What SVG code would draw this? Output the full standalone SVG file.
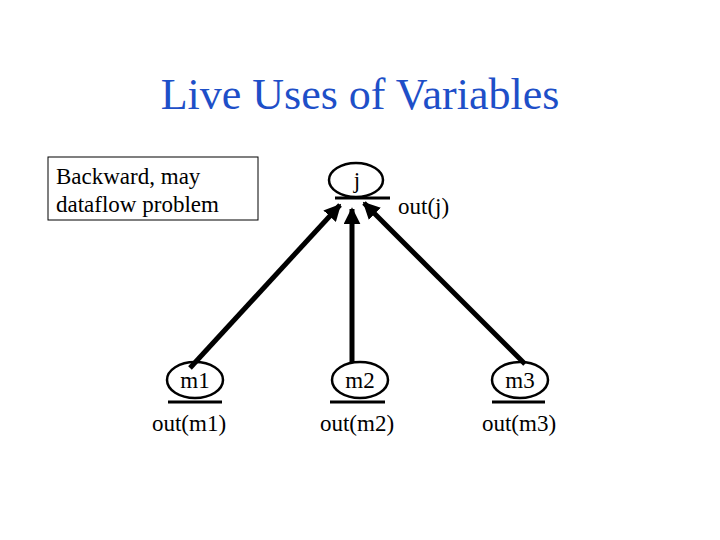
<svg xmlns="http://www.w3.org/2000/svg" width="720" height="540" viewBox="0 0 720 540">
<style>
text{font-family:"Liberation Serif","Times New Roman",serif;fill:#000}
.t{font-size:23px}
.n{fill:none;stroke:#000;stroke-width:2.5}
.u{stroke:#000;stroke-width:3}
.e{stroke:#000;stroke-width:5;fill:none}
</style>
<defs>
<marker id="ah" viewBox="0 0 10 10" refX="9" refY="5" markerWidth="3.4" markerHeight="3.4" orient="auto" markerUnits="strokeWidth">
<path d="M0,0L10,5L0,10z" fill="#000"/>
</marker>
</defs>
<rect width="720" height="540" fill="#fff"/>
<text x="360" y="109" text-anchor="middle" style="font-size:44px;fill:#1e4fc8">Live Uses of Variables</text>
<g id="note">
<rect x="48" y="157" width="210" height="63" fill="#fff" stroke="#000" stroke-width="1"/>
<text class="t" x="56" y="184">Backward, may</text>
<text class="t" x="56" y="212">dataflow problem</text>
</g>
<g id="connectors">
<line class="e" x1="190" y1="368" x2="340" y2="205" marker-end="url(#ah)"/>
<line class="e" x1="352" y1="362" x2="352" y2="209" marker-end="url(#ah)"/>
<line class="e" x1="525" y1="364" x2="364" y2="203" marker-end="url(#ah)"/>
</g>
<g id="j">
<ellipse class="n" cx="356" cy="180" rx="27" ry="17"/>
<line class="u" x1="335" y1="198" x2="390" y2="198"/>
<text class="t" x="357" y="188" text-anchor="middle">j</text>
<text class="t" x="398" y="214">out(j)</text>
</g>
<g id="m1">
<ellipse class="n" cx="195" cy="380" rx="28" ry="18"/>
<line class="u" x1="168" y1="402" x2="222" y2="402"/>
<text class="t" x="195" y="388" text-anchor="middle">m1</text>
<text class="t" x="189" y="431" text-anchor="middle">out(m1)</text>
</g>
<g id="m2">
<ellipse class="n" cx="360" cy="380" rx="28" ry="18"/>
<line class="u" x1="330" y1="402" x2="385" y2="402"/>
<text class="t" x="360" y="388" text-anchor="middle">m2</text>
<text class="t" x="357" y="431" text-anchor="middle">out(m2)</text>
</g>
<g id="m3">
<ellipse class="n" cx="520" cy="380" rx="28" ry="18"/>
<line class="u" x1="492" y1="402" x2="545" y2="402"/>
<text class="t" x="520" y="388" text-anchor="middle">m3</text>
<text class="t" x="519" y="431" text-anchor="middle">out(m3)</text>
</g>
</svg>
